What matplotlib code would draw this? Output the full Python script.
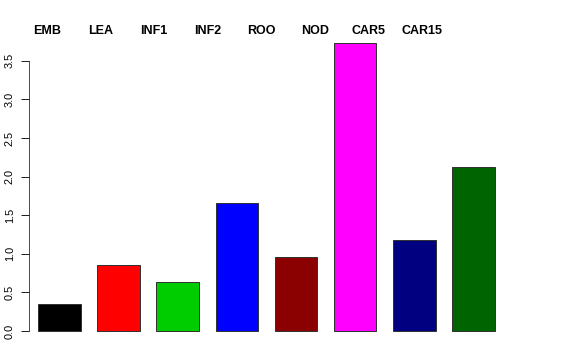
import matplotlib
matplotlib.use("Agg")
import matplotlib.pyplot as plt
import numpy as np

categories = ["EMB", "LEA", "INF1", "INF2", "ROO", "NOD", "CAR5", "CAR15"]
values = [0.345, 0.858, 0.633, 1.661, 0.961, 3.733, 1.177, 2.123]
colors = ["#000000", "#FF0000", "#00CD00", "#0000FF", "#8B0000", "#FF00FF", "#000080", "#006400"]
yticks = [0.0, 0.5, 1.0, 1.5, 2.0, 2.5, 3.0, 3.5]
ytick_labels = ["0.0", "0.5", "1.0", "1.5", "2.0", "2.5", "3.0", "3.5"]

plt.rcParams['font.family'] = ['Liberation Sans', 'DejaVu Sans']

W, H = 576, 360
fig = plt.figure(figsize=(W / 72, H / 72), dpi=72)

# pixel layout
ax_left_px, ax_right_px = 29, 546
ax_top_px, ax_bottom_px = 30, 331
ax = fig.add_axes([ax_left_px / W, 1 - ax_bottom_px / H,
                   (ax_right_px - ax_left_px) / W, (ax_bottom_px - ax_top_px) / H])

x = np.arange(len(categories))
step_px = 59.14
x0_px = 59.5
ax.set_xlim((ax_left_px - x0_px) / step_px, (ax_right_px - x0_px) / step_px)
ppu = 77.2
ax.set_ylim(0, (ax_bottom_px - ax_top_px) / ppu)

ax.bar(x, values, width=0.72, color=colors, edgecolor="#333333", linewidth=1.0, clip_on=False)

for s in ["top", "right", "bottom"]:
    ax.spines[s].set_visible(False)
ax.spines["left"].set_bounds(0, 3.5)
ax.spines["left"].set_color("#222222")
ax.set_xticks([])
ax.set_yticks(yticks)
ax.set_yticklabels(ytick_labels, rotation=90, va="center", ha="right", fontsize=11)
ax.tick_params(axis="y", length=8, width=1, pad=6, color="#222222")

# category labels at top
lab_start = (47 - x0_px) / step_px
lab_step = 53.6 / step_px
lab_y = (ax_bottom_px - 34) / ppu
for i, c in enumerate(categories):
    ax.text(lab_start + i * lab_step, lab_y, c, ha="center", va="baseline",
            fontsize=12.5, fontweight="bold", clip_on=False)

fig.savefig("out.png", dpi=72)
